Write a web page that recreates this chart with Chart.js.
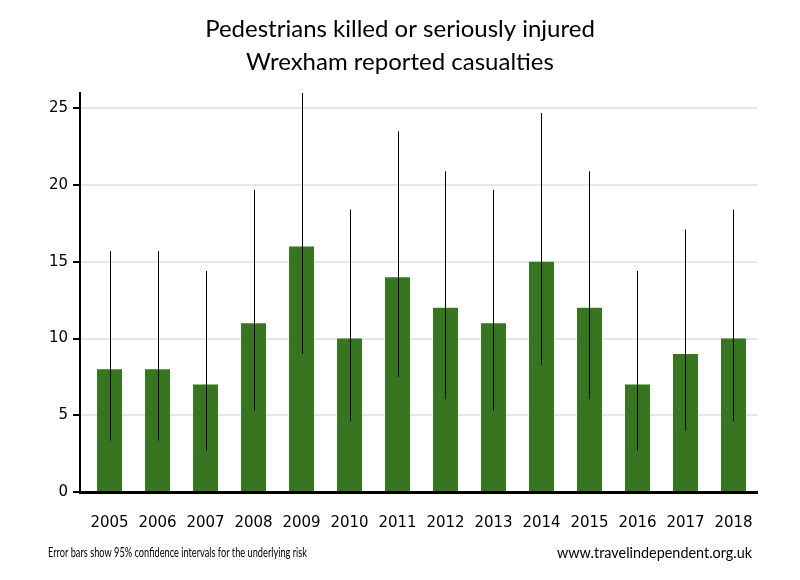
<!DOCTYPE html>
<html>
<head>
<meta charset="utf-8">
<script src="https://cdn.jsdelivr.net/npm/chart.js@4"></script>
<style>
  body { margin: 0; background: #fff; }
  #wrap { width: 800px; height: 580px; }
</style>
</head>
<body>
<div id="wrap"><canvas id="casualtyChart" width="800" height="580"></canvas></div>
<script>
const years = ['2005', '2006', '2007', '2008', '2009', '2010', '2011', '2012', '2013', '2014', '2015', '2016', '2017', '2018'];
const casualties = [8, 8, 7, 11, 16, 10, 14, 12, 11, 15, 12, 7, 9, 10];
// 95% confidence interval ends
const ciLow = [3.35, 3.35, 2.7, 5.3, 9.0, 4.6, 7.5, 6.05, 5.3, 8.3, 6.05, 2.7, 4.0, 4.6];
const ciHigh = [15.7, 15.7, 14.4, 19.7, 26.8, 18.4, 23.5, 20.9, 19.7, 24.7, 20.9, 14.4, 17.1, 18.4];
const yTicks = [0, 5, 10, 15, 20, 25];

// error bars drawn through the y scale
const errorBars = {
    id: 'errorBars',
    afterDatasetsDraw(chart) {
        const ctx = chart.ctx;
        const area = chart.chartArea;
        const y = chart.scales.y;
        const meta = chart.getDatasetMeta(0);
        ctx.save();
        ctx.beginPath();
        ctx.rect(area.left, area.top, area.right - area.left, area.bottom - area.top);
        ctx.clip();
        ctx.strokeStyle = '#000';
        ctx.lineWidth = 1;
        meta.data.forEach((bar, i) => {
            const x = Math.round(bar.x) + 0.5;
            ctx.beginPath();
            ctx.moveTo(x, y.getPixelForValue(ciLow[i]));
            ctx.lineTo(x, y.getPixelForValue(ciHigh[i]));
            ctx.stroke();
        });
        ctx.restore();
    }
};

// title and footnotes
const texts = {
    id: 'texts',
    afterDraw(chart) {
        const ctx = chart.ctx;
        ctx.save();
        ctx.fillStyle = '#000';
        ctx.textBaseline = 'middle';
        ctx.textAlign = 'center';
        ctx.font = '24px Lato, "Open Sans", sans-serif';
        ctx.fillText('Pedestrians killed or seriously injured', 400, 29, 394);
        ctx.fillText('Wrexham reported casualties', 400, 62, 308);
        ctx.font = '13px Lato, sans-serif';
        ctx.textAlign = 'left';
        ctx.fillText('Error bars show 95% confidence intervals for the underlying risk', 48, 553, 259);
        ctx.font = '14.5px Lato, sans-serif';
        ctx.textAlign = 'right';
        ctx.fillText('www.travelindependent.org.uk', 752, 553, 195);
        ctx.restore();
    }
};

const casualtyChart = new Chart(document.getElementById('casualtyChart'), {
    type: 'bar',
    data: {
        datasets: [{
            data: casualties.map((v, i) => ({ x: i, y: v })),
            backgroundColor: '#377521',
            borderWidth: 0,
            barPercentage: 0.52,
            categoryPercentage: 1
        }]
    },
    options: {
        responsive: false,
        animation: false,
        layout: { padding: { top: 93, right: 43, bottom: 0, left: 0 } },
        plugins: {
            legend: { display: false },
            tooltip: { enabled: false },
            title: { display: false }
        },
        scales: {
            x: {
                type: 'linear',
                offset: false,
                min: -0.615,
                max: 13.49,
                grid: { display: false },
                border: { color: '#000', width: 3 },
                ticks: {
                    stepSize: 1,
                    autoSkip: false,
                    includeBounds: false,
                    maxRotation: 0,
                    color: '#000',
                    padding: 14,
                    font: { family: '"DejaVu Sans", Verdana, sans-serif', size: 15 },
                    callback: (v) => years[v] ?? null
                },
                afterFit(scale) { scale.height = 88; }
            },
            y: {
                min: 0,
                max: 26,
                grid: { color: '#e6e6e6', lineWidth: 2, tickColor: '#000', tickLength: 7, tickWidth: 2 },
                border: { color: '#000', width: 2 },
                ticks: {
                    stepSize: 5,
                    includeBounds: false,
                    color: '#000',
                    padding: 5,
                    font: { family: '"DejaVu Sans", Verdana, sans-serif', size: 15 },
                    callback: (v) => yTicks.includes(v) ? v : null
                },
                afterFit(scale) { scale.width = 80; }
            }
        }
    },
    plugins: [errorBars, texts]
});
</script>
</body>
</html>
